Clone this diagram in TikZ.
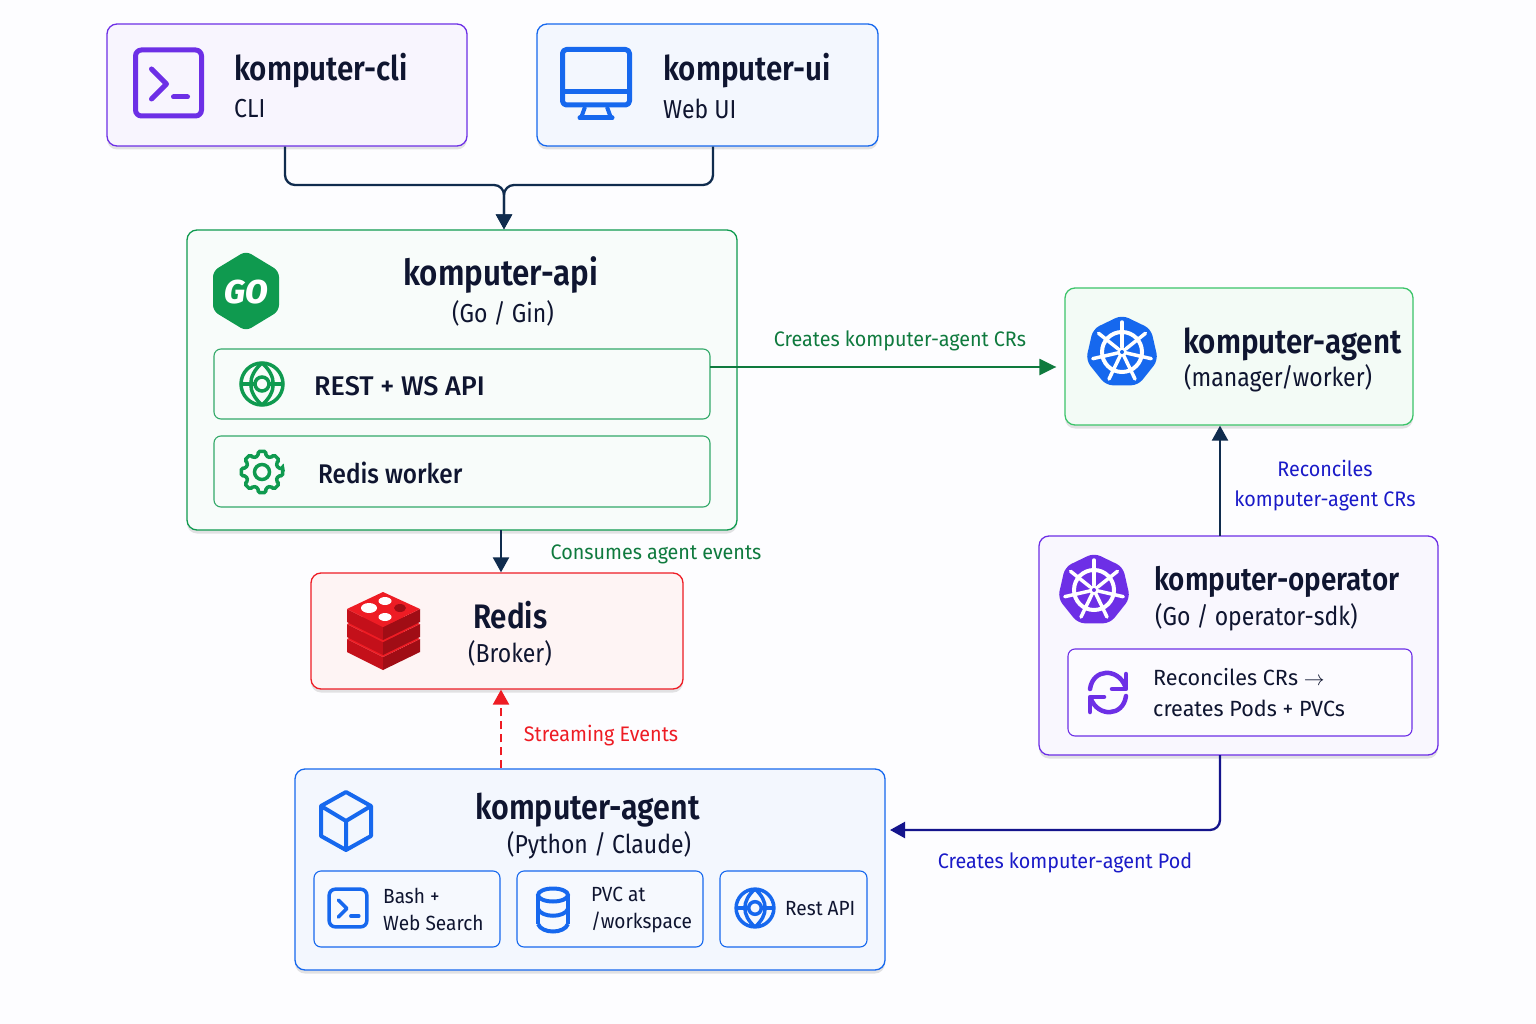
\documentclass[tikz,border=0pt]{standalone}
\usepackage{fontspec}
\setmainfont{Fira Sans}
\newfontfamily\headfont{Fira Sans SemiBold}[FakeStretch=.87]
\newfontfamily\subfont{Fira Sans}[FakeStretch=.885]
\newfontfamily\notefont{Fira Sans}[FakeStretch=.94]
\newfontfamily\smallfont{Fira Sans}[FakeStretch=.98]
\newfontfamily\tinyfont{Fira Sans}[FakeStretch=.93]
\newfontfamily\midfont{Fira Sans Medium}
\newfontfamily\narrowfont{Fira Sans Medium}[FakeStretch=.9]
\newfontfamily\gofont{Fira Sans ExtraBold Italic}
\usetikzlibrary{arrows.meta,shadows,calc}
\definecolor{ink}{HTML}{0F1530}
\definecolor{navy}{HTML}{102C4E}
\definecolor{deepblue}{HTML}{14148C}
\definecolor{labelblue}{HTML}{1A1AC8}
\definecolor{pine}{HTML}{0F7A3E}
\definecolor{gogreen}{HTML}{0F9A4F}
\definecolor{mint}{HTML}{3CC46A}
\definecolor{grape}{HTML}{6D2FE6}
\definecolor{azure}{HTML}{1668EE}
\definecolor{scarlet}{HTML}{EE1C24}
\definecolor{brick}{HTML}{C4101A}
\definecolor{darkbrick}{HTML}{A00D15}
\tikzset{
    termicon/.pic={
        \draw[rounded corners=6] (-33,-33) rectangle (33,33);
        \draw[line join=round,line cap=round] (-17,-14) -- (-2,1) -- (-17,16);
        \draw[line cap=round] (5,14) -- (19,14);
    },
    globeicon/.pic={
        \draw (0,0) circle (21);
        \draw (0,0) circle (7);
        \draw (0,-21) .. controls (-15,-8) and (-15,8) .. (0,21);
        \draw (0,-21) .. controls (15,-8) and (15,8) .. (0,21);
        \draw (-21,0) -- (-7,0) (7,0) -- (21,0);
    },
    gearicon/.pic={
        \draw[rounded corners=1.5] (-9:21)
            \foreach \a in {0,45,...,315} {
                -- (\a-10:21) -- (\a+10:21) -- (\a+14:16.5) -- (\a+31:16.5)
            } -- cycle;
        \draw (0,0) circle (7.5);
    },
    wheelicon/.pic={
        \fill[rounded corners=7] (270:37) \foreach \a in {1,...,6} { -- (270+\a*51.43:37) } -- cycle;
        \draw[white,line width=4] (0,0) circle (20);
        \foreach \a in {0,...,6}
            \draw[white,line width=3.5,line cap=round] (270+\a*51.43:5) -- (270+\a*51.43:30);
        \fill[white] (0,0) circle (5);
        \fill (0,0) circle (2);
    },
    refreshicon/.pic={
        \draw[line cap=round] (-18,-3) .. controls (-15,-24) and (10,-24) .. (17,-6);
        \draw[line cap=round,line join=round] (18,-18) -- (18,-3) -- (4,-3);
        \draw[line cap=round] (18,4) .. controls (15,25) and (-10,25) .. (-17,7);
        \draw[line cap=round,line join=round] (-18,20) -- (-18,5) -- (-4,5);
    },
}
\begin{document}
\begin{tikzpicture}[
        x=1pt,y=-1pt,
        box/.style={draw,rounded corners=10,line width=1.3pt,drop shadow={opacity=.22,shadow xshift=0pt,shadow yshift=-3.5pt}},
        inner box/.style={draw,rounded corners=7,line width=1.1pt},
        head/.style={text=ink,font=\fontsize{34}{38}\headfont},
        sub/.style={text=ink,font=\fontsize{26}{30}\subfont},
        item/.style={text=ink,font=\fontsize{27}{30}\midfont},
        worker item/.style={text=ink,font=\fontsize{27}{30}\narrowfont},
        small/.style={text=ink,align=left,font=\fontsize{22}{31}\smallfont},
        tiny/.style={text=ink,align=left,font=\fontsize{20.5}{27}\tinyfont},
        note/.style={font=\fontsize{21}{30}\notefont},
        flow/.style={draw=navy,line width=2.3pt,-{Triangle[length=15pt,width=16pt]}},
    ]
    \useasboundingbox (0,0) rectangle (1536,1024);
    \fill[white!99!azure] (0,0) rectangle (1536,1024);
    % First we draw the boxes
    \foreach \pos/\name/\boxw/\boxh/\edge/\back in {
            {(287,85)/cli/360/122/grape/grape!5},
            {(707.5,85)/ui/341/122/azure/azure!5},
            {(462,380)/api/550/300/gogreen/gogreen!3},
            {(1239,356.5)/manager/348/137/mint/mint!6},
            {(497,631)/redis/372/116/scarlet/scarlet!5},
            {(1238.5,645.5)/operator/399/219/grape/grape!4},
            {(590,869.5)/agent/590/201/azure/azure!5}}
        \node[box,draw=\edge,fill=\back,minimum width=\boxw,minimum height=\boxh] (\name) at \pos {};
    % The inner boxes
    \foreach \pos/\name/\boxw/\boxh/\edge/\back in {
            {(462,384)/rest/496/70/gogreen!85/gogreen!3},
            {(462,471.5)/worker/496/71/gogreen!85/gogreen!3},
            {(1240,692.5)/reconcile/344/87/grape/grape!2},
            {(407,909)/bash/186/76/azure/azure!4},
            {(610,909)/pvc/186/76/azure/azure!4},
            {(793.5,909)/restapi/147/76/azure/azure!4}}
        \node[inner box,draw=\edge,fill=\back,minimum width=\boxw,minimum height=\boxh] (\name) at \pos {};
    % Then the texts of the boxes
    \foreach \pos/\name/\look/\txt in {
            {(234,71)/clihead/head/komputer-cli},
            {(234,109)/clisub/sub/CLI},
            {(663,71)/uihead/head/komputer-ui},
            {(663,109)/uisub/sub/Web UI},
            {(403,275)/apihead/head/{\fontsize{36}{38}\selectfont komputer-api}},
            {(452,313)/apisub/sub/{(Go / Gin)}},
            {(314,386)/resttext/item/REST + WS API},
            {(318,473)/workertext/worker item/Redis worker},
            {(1183,344)/managerhead/head/komputer-agent},
            {(1184,378)/managersub/sub/{(manager/worker)}},
            {(473,615)/redishead/head/Redis},
            {(468,653)/redissub/sub/(Broker)},
            {(1154,582)/operatorhead/head/{\fontsize{32}{38}\selectfont komputer-operator}},
            {(1155,617)/operatorsub/sub/{(Go / operator-sdk)}},
            {(1153,693)/reconciletext/small/{Reconciles CRs $\rightarrow$\\creates Pods + PVCs}},
            {(475,810)/agenthead/head/{\fontsize{35}{38}\selectfont komputer-agent}},
            {(507,845)/agentsub/sub/{(Python / Claude)}},
            {(383,909)/bashtext/tiny/{Bash +\\Web Search}},
            {(591,910)/pvctext/tiny/{PVC at\\/workspace}},
            {(785,909)/restapitext/tiny/Rest API}}
        \node[\look,anchor=west,inner sep=0pt] (\name) at \pos {\txt};
    % Icons
    \pic[color=grape,line width=5pt] at (168.5,83) {termicon};
    \begin{scope}[color=azure,line width=5pt,line join=round,rounded corners=4]
        \draw (562.5,49.5) rectangle (629.5,105);
        \draw (562.5,92) -- (629.5,92);
        \draw[line width=4pt,rounded corners=0] (585,107) -- (581,118) (607,107) -- (611,118);
        \draw[line cap=round,rounded corners=0] (580,118) -- (612,118);
    \end{scope}
    \fill[gogreen,rounded corners=6] (246,251) -- (279,271) -- (279,311) -- (246,331) -- (213,311) -- (213,271) -- cycle;
    \node[text=white,font=\fontsize{33}{36}\gofont] (gotext) at (246,292) {GO};
    \pic[color=gogreen,line width=3.5pt] at (262,384) {globeicon};
    \pic[color=gogreen,line width=3.5pt] at (262,472) {gearicon};
    \pic[color=azure] at (1122,352) {wheelicon};
    \pic[color=grape] at (1094,590) {wheelicon};
    \pic[color=grape,line width=4.5pt] at (1108,692) {refreshicon};
    % Redis stack, from the lowest layer up
    \foreach \d in {30,15,0} {
        \fill[brick] (347,609+\d) -- (383,627+\d) -- (383,640+\d) -- (347,622+\d) -- cycle;
        \fill[darkbrick] (420,609+\d) -- (383,627+\d) -- (383,640+\d) -- (420,622+\d) -- cycle;
        \fill[scarlet] (383,592+\d) -- (420,609+\d) -- (383,627+\d) -- (347,609+\d) -- cycle;
    }
    \fill[white] (369,608) ellipse (8 and 5);
    \fill[white] (385,601) ellipse (6.5 and 4);
    \fill[white] (385,617) ellipse (6.5 and 4);
    \fill[darkbrick] (400,608) ellipse (6 and 4);
    % Cube, small icons of the agent
    \draw[azure,line width=4pt,line join=round] (346,792) -- (371,806) -- (371,836) -- (346,850) -- (321,836) -- (321,806) -- cycle
        (321,806) -- (346,821) -- (371,806) (346,821) -- (346,850);
    \pic[color=azure,line width=3.5pt,scale=.57] at (348,908) {termicon};
    \begin{scope}[azure,line width=4pt]
        \draw (553,895) ellipse (15 and 6.5);
        \draw (538,895) -- (538,924) (568,895) -- (568,924);
        \draw (538,909) .. controls (542,918) and (564,918) .. (568,909);
        \draw (538,924) .. controls (542,934) and (564,934) .. (568,924);
    \end{scope}
    \pic[color=azure,line width=3.5pt,scale=.9] at (755,908) {globeicon};
    % Connect the boxes
    \coordinate (merge) at (504,185);
    \coordinate (restout) at (710,367);
    \coordinate (upline) at (1220,536);
    \coordinate (downline) at (1220,755);
    \coordinate (brokerline) at (501,530);
    \coordinate (podline) at (885,830);
    \path[flow,rounded corners=10] ($(cli.south)+(-2,0)$) |- (merge) -- (api.north -| merge);
    \path[flow,rounded corners=10] ($(ui.south)+(5.5,0)$) |- (merge) -- (api.north -| merge);
    \path[flow,draw=pine,-{Triangle[length=17pt,width=16pt]},shorten >=8pt] (restout) -- (manager.west |- restout);
    \path[flow] (upline) -- (manager.south -| upline);
    \path[flow,draw=deepblue,rounded corners=10,shorten >=5pt] (downline) |- (podline);
    \path[flow] (brokerline) -- (redis.north -| brokerline);
    \path[flow,draw=scarlet,dash pattern=on 8pt off 5pt] (agent.north -| brokerline) -- (redis.south -| brokerline);
    % Labels of the connectors
    \foreach \pos/\name/\hue/\txt in {
            {(900,341)/creates/pine/Creates komputer-agent CRs},
            {(656,554)/consumes/pine/Consumes agent events},
            {(1325,486)/reconciles/labelblue/{Reconciles\\komputer-agent CRs}},
            {(601,736)/streaming/scarlet/Streaming Events},
            {(1065,863)/createspod/labelblue/Creates komputer-agent Pod}}
        \node[note,text=\hue,align=center,inner sep=0pt] (\name) at \pos {\txt};
\end{tikzpicture}
\end{document}
